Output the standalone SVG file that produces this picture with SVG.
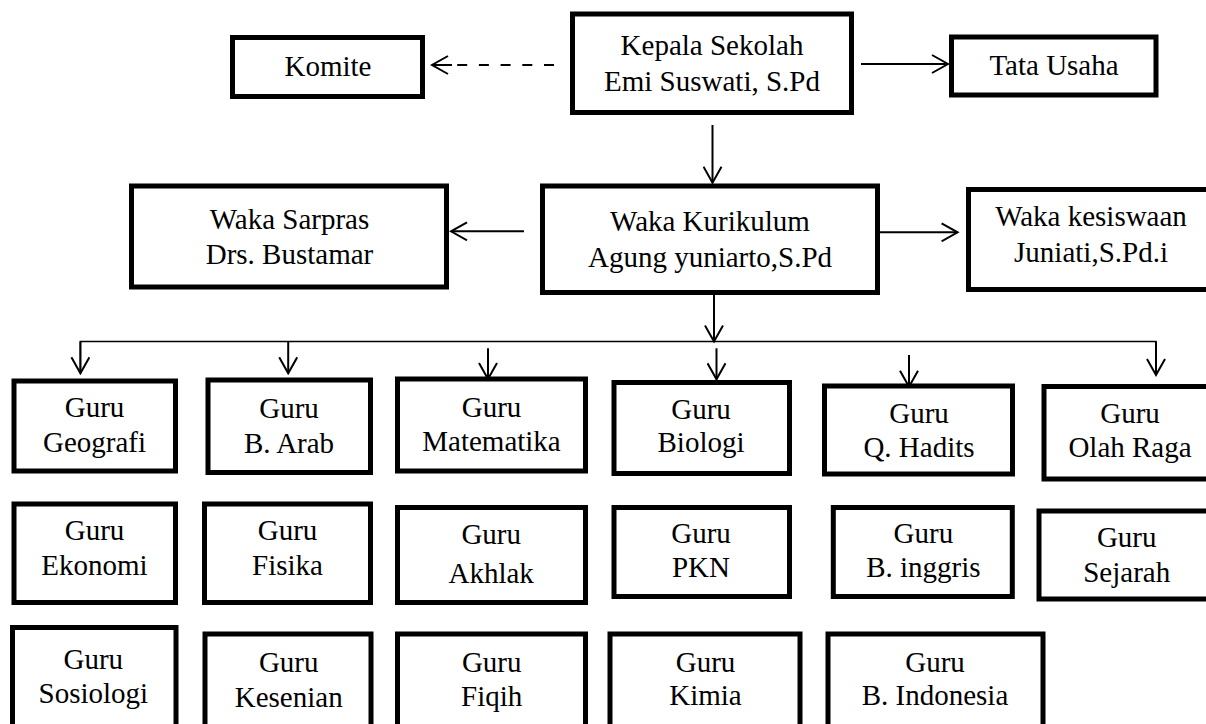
<svg xmlns="http://www.w3.org/2000/svg" width="1206" height="724" viewBox="0 0 1206 724">
<style>
.box{fill:#fff;stroke:#000;stroke-width:5}
.t text{font-size:29px;fill:#000;text-anchor:middle}
.ln{fill:none;stroke:#000;stroke-width:2}
.bus{fill:none;stroke:#000;stroke-width:1.5}
.dash{fill:none;stroke:#000;stroke-width:2;stroke-dasharray:10 11.7}
</style>
<defs>
<marker id="arr" markerUnits="userSpaceOnUse" viewBox="0 0 20 20" refX="18" refY="10" markerWidth="20" markerHeight="20" orient="auto">
<path d="M2,1 L18,10 L2,19" fill="none" stroke="#000" stroke-width="2" stroke-dasharray="none"/>
</marker>
</defs>
<rect width="1206" height="724" fill="#fff"/>
<g id="connectors">
<line class="dash" x1="554" y1="65" x2="457" y2="65"/>
<line class="ln" x1="452" y1="65" x2="432" y2="65" marker-end="url(#arr)"/>
<line class="ln" x1="861" y1="64" x2="948" y2="64" marker-end="url(#arr)"/>
<line class="ln" x1="712.5" y1="125" x2="712.5" y2="182.7" marker-end="url(#arr)"/>
<line class="ln" x1="524" y1="231.3" x2="451" y2="231.3" marker-end="url(#arr)"/>
<line class="ln" x1="880" y1="232.3" x2="957.6" y2="232.3" marker-end="url(#arr)"/>
<line class="ln" x1="714" y1="295" x2="714" y2="341.5" marker-end="url(#arr)"/>
<polyline class="bus" points="80.4,373 80.4,341.5 1156,341.5 1156,375"/>
<line class="ln" x1="80.4" y1="341.5" x2="80.4" y2="373.3" marker-end="url(#arr)"/>
<line class="ln" x1="288.2" y1="341.5" x2="288.2" y2="373.3" marker-end="url(#arr)"/>
<line class="ln" x1="488" y1="348.3" x2="488" y2="379" marker-end="url(#arr)"/>
<line class="ln" x1="716.5" y1="348.3" x2="716.5" y2="379.3" marker-end="url(#arr)"/>
<line class="ln" x1="909" y1="355" x2="909" y2="386.7" marker-end="url(#arr)"/>
<line class="ln" x1="1156" y1="341.5" x2="1156" y2="375" marker-end="url(#arr)"/>
</g>
<g class="t" font-family="'Liberation Serif', 'Times New Roman', 'DejaVu Serif', serif">
<g id="komite"><rect class="box" x="232.5" y="37.5" width="190" height="59"/><text x="328" y="76">Komite</text></g>
<g id="kepala"><rect class="box" x="572.5" y="14" width="279" height="98.5"/><text x="712" y="55">Kepala Sekolah</text><text x="712" y="90.7">Emi Suswati, S.Pd</text></g>
<g id="tata-usaha"><rect class="box" x="951.5" y="37" width="204.5" height="58"/><text x="1054" y="75">Tata Usaha</text></g>
<g id="waka-sarpras"><rect class="box" x="131.5" y="186" width="315" height="101"/><text x="289.5" y="229">Waka Sarpras</text><text x="289.5" y="264">Drs. Bustamar</text></g>
<g id="waka-kurikulum"><rect class="box" x="542.5" y="186" width="335" height="106.5"/><text x="710" y="231">Waka Kurikulum</text><text x="710" y="266.7">Agung yuniarto,S.Pd</text></g>
<g id="waka-kesiswaan"><rect class="box" x="968.5" y="189.5" width="260" height="100"/><text x="1091" y="225.5">Waka kesiswaan</text><text x="1091" y="262">Juniati,S.Pd.i</text></g>
<g id="geografi"><rect class="box" x="14" y="381" width="161.5" height="90"/><text x="94.5" y="417.3">Guru</text><text x="94.5" y="451.7">Geografi</text></g>
<g id="b-arab"><rect class="box" x="208" y="380" width="162.5" height="92.5"/><text x="289" y="418.3">Guru</text><text x="289" y="453.3">B. Arab</text></g>
<g id="matematika"><rect class="box" x="397.5" y="379" width="188" height="92"/><text x="491.5" y="417.3">Guru</text><text x="491.5" y="450.7">Matematika</text></g>
<g id="biologi"><rect class="box" x="614" y="382.5" width="175.5" height="91"/><text x="701" y="419.3">Guru</text><text x="701" y="452.3">Biologi</text></g>
<g id="q-hadits"><rect class="box" x="824.5" y="386" width="188" height="88"/><text x="919" y="422.7">Guru</text><text x="919" y="456.7">Q. Hadits</text></g>
<g id="olah-raga"><rect class="box" x="1044" y="386.5" width="200" height="92.5"/><text x="1130" y="423.3">Guru</text><text x="1130" y="457.3">Olah Raga</text></g>
<g id="ekonomi"><rect class="box" x="14" y="504" width="161.5" height="98.5"/><text x="94.5" y="540">Guru</text><text x="94.5" y="575">Ekonomi</text></g>
<g id="fisika"><rect class="box" x="204.5" y="504" width="166" height="98.5"/><text x="287.5" y="540">Guru</text><text x="287.5" y="575">Fisika</text></g>
<g id="akhlak"><rect class="box" x="397.5" y="507.5" width="188" height="95"/><text x="491.2" y="544.3">Guru</text><text x="491.2" y="583.3">Akhlak</text></g>
<g id="pkn"><rect class="box" x="614" y="507.5" width="175.5" height="89"/><text x="701" y="543.3">Guru</text><text x="701" y="577.3">PKN</text></g>
<g id="b-inggris"><rect class="box" x="833.3" y="507.5" width="179" height="89"/><text x="923.4" y="543.3">Guru</text><text x="923.4" y="576.7">B. inggris</text></g>
<g id="sejarah"><rect class="box" x="1039" y="511" width="200" height="88"/><text x="1126.7" y="546.7">Guru</text><text x="1126.7" y="581.7">Sejarah</text></g>
<g id="sosiologi"><rect class="box" x="12.5" y="627.5" width="163.5" height="100"/><text x="93.3" y="669">Guru</text><text x="93.3" y="703.3">Sosiologi</text></g>
<g id="kesenian"><rect class="box" x="205" y="634" width="166" height="100"/><text x="288.7" y="671.7">Guru</text><text x="288.7" y="706.7">Kesenian</text></g>
<g id="fiqih"><rect class="box" x="397.5" y="634" width="188" height="100"/><text x="491.7" y="671.7">Guru</text><text x="491.7" y="706">Fiqih</text></g>
<g id="kimia"><rect class="box" x="610" y="634" width="190" height="100"/><text x="705.5" y="671.7">Guru</text><text x="705.5" y="705">Kimia</text></g>
<g id="b-indonesia"><rect class="box" x="828" y="634" width="215" height="100"/><text x="935" y="671.7">Guru</text><text x="935" y="705">B. Indonesia</text></g>
</g>
</svg>
